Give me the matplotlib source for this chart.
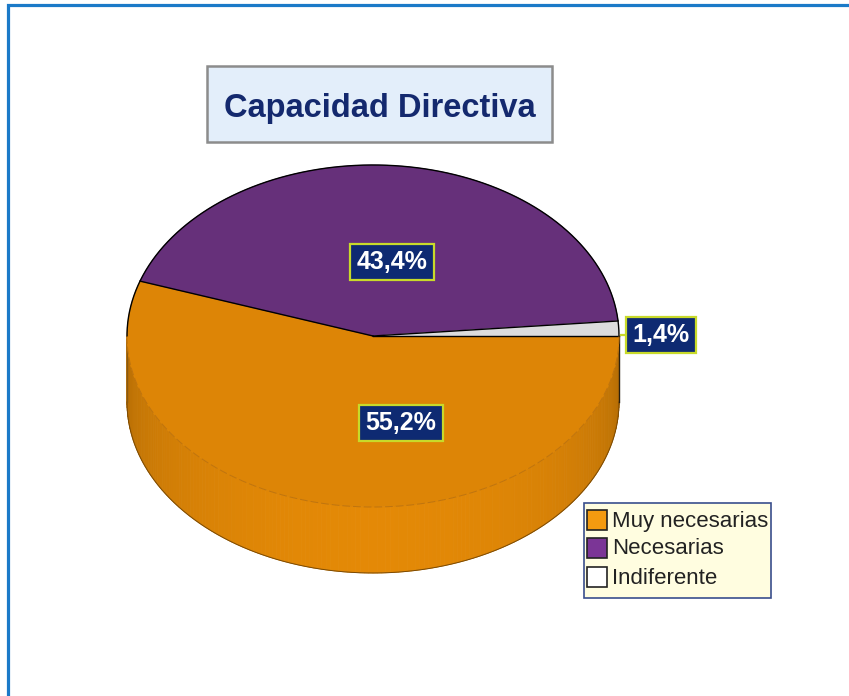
import numpy as np
import matplotlib
matplotlib.use("Agg")
import matplotlib.pyplot as plt
from matplotlib.patches import Polygon, Rectangle
from matplotlib.lines import Line2D

# ---- data ----
categories = ["Muy necesarias", "Necesarias", "Indiferente"]
values = [55.2, 43.4, 1.4]
value_labels = ["55,2%", "43,4%", "1,4%"]
colors = ["#DD8506", "#66307A", "#DCDCDC"]
legend_colors = ["#F39A10", "#7B3596", "#FFFFFF"]
title = "Capacidad Directiva"

plt.rcParams['font.family'] = ['Liberation Sans', 'DejaVu Sans']

W, H = 849, 696
fig = plt.figure(figsize=(W / 100, H / 100), dpi=100)
ax = fig.add_axes([0, 0, 1, 1])
ax.set_xlim(0, W)
ax.set_ylim(H, 0)
ax.axis("off")

# pie geometry (pixels)
cx, cy, rx, ry, depth = 373, 336, 246, 171, 66


def pt(theta_deg, dy=0.0):
    t = np.radians(theta_deg)
    return cx + rx * np.cos(t), cy - ry * np.sin(t) + dy


# slice angles: start at 3 o'clock, clockwise
total = sum(values)
bounds = [0.0]
for v in values:
    bounds.append(bounds[-1] - 360.0 * v / total)

# ---- side wall (front half, 180..360 deg) ----
base = np.array(matplotlib.colors.to_rgb(colors[0]))
n = 180
ths = np.linspace(180, 360, n + 1)
for a, b in zip(ths[:-1], ths[1:]):
    m = 0.5 * (a + b)
    f = 0.80 + 0.23 * (-np.sin(np.radians(m))) ** 0.8
    col = np.clip(base * f, 0, 1)
    p1, p2 = pt(a), pt(b)
    p3, p4 = pt(b, depth), pt(a, depth)
    ax.add_patch(Polygon([p1, p2, p3, p4], closed=True, fc=col, ec=col, lw=0.6, zorder=2))

# bottom outline
arc = np.linspace(180, 360, 200)
bx = [pt(t, depth)[0] for t in arc]
by = [pt(t, depth)[1] for t in arc]
ax.plot(bx, by, color="#7A4A05", lw=0.7, zorder=3)
# vertical edges
for t, c in ((180, "#8A5A10"), (360, "#2A2010")):
    x0, y0 = pt(t)
    ax.plot([x0, x0], [y0, y0 + depth], color=c, lw=1.0, zorder=3)

# ---- top face slices ----
for i in range(len(values)):
    a, b = bounds[i], bounds[i + 1]
    ts = np.linspace(a, b, max(3, int(abs(b - a)) * 2))
    poly = [(cx, cy)] + [pt(t) for t in ts]
    ax.add_patch(Polygon(poly, closed=True, fc=colors[i], ec=colors[i], lw=0.5,
                         zorder=4))

# black outline of the back (upper) arc and radial edges
up = np.linspace(0, 180, 200)
ax.plot([pt(t)[0] for t in up], [pt(t)[1] for t in up], color="black", lw=1.0, zorder=5)
for bnd in bounds[1:3]:
    x1, y1 = pt(bnd)
    ax.plot([cx, x1], [cy, y1], color="black", lw=1.0, zorder=5)
ax.plot([cx, cx + rx], [cy, cy], color="black", lw=1.0, zorder=5)
# seam between top and side (faint dashed)
sx = [pt(t)[0] for t in arc]
sy = [pt(t)[1] for t in arc]
ax.plot(sx, sy, color="#B87010", lw=0.7, ls=(0, (8, 3)), alpha=0.8, zorder=5)

# ---- value labels ----
label_pos = [(401, 423), (392, 262), (661, 335)]
for (x, y), s in zip(label_pos, value_labels):
    ax.text(x, y, s, ha="center", va="center", color="white", fontsize=18,
            fontweight="bold", zorder=6,
            bbox=dict(boxstyle="square,pad=0.25", fc="#0E2A72", ec="#C8DA2A", lw=1.6))
# connector for small slice
ax.add_line(Line2D([621, 630], [335, 335], color="#C8DA2A", lw=1.6, zorder=5))

# ---- title box ----
ax.add_patch(Rectangle((207, 66), 345, 76, fc="#E3EEFA", ec="#8C8C8C", lw=1.8, zorder=5))
ax.text(380, 109, title, ha="center", va="center", color="#14296E",
        fontsize=23.5, fontweight="bold", zorder=6)

# ---- legend ----
ax.add_patch(Rectangle((584, 503), 187, 95, fc="#FFFDE0", ec="#3A4E8C", lw=1.2, zorder=5))
rows = [520, 548, 577]
for y, c, lab in zip(rows, legend_colors, categories):
    ax.add_patch(Rectangle((587, y - 10), 20, 20, fc=c, ec="#222222", lw=1.2, zorder=6))
    ax.text(612, y + 1, lab, ha="left", va="center", color="#222222", fontsize=16, zorder=6)

# ---- outer border ----
ax.add_line(Line2D([8, 8, W + 5], [H + 5, 5, 5], color="#1B7AC8", lw=2.3,
                   solid_joinstyle="miter", zorder=7))

fig.savefig("out.png", dpi=100)
